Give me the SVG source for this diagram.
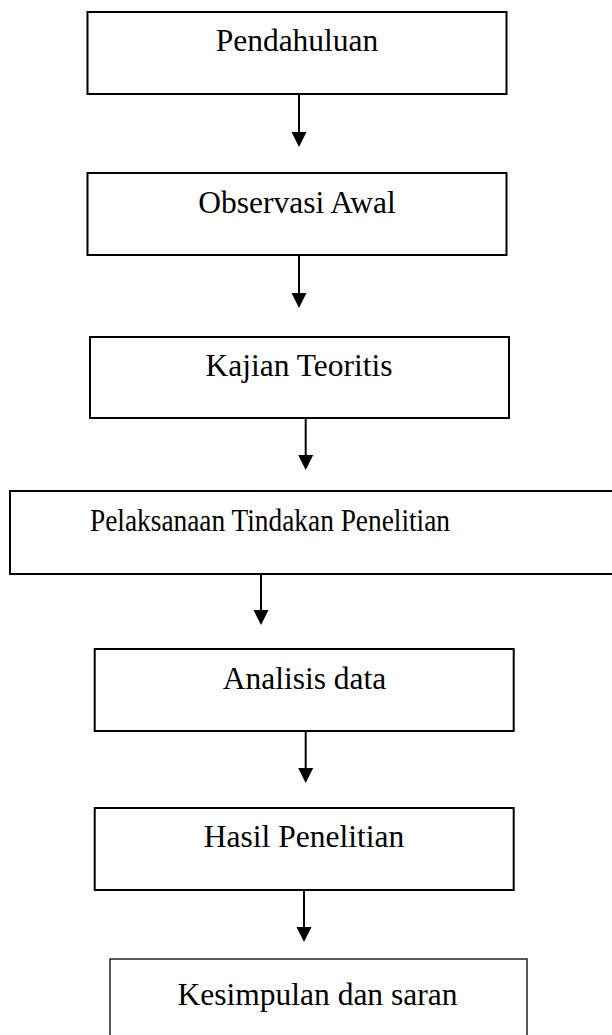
<svg xmlns="http://www.w3.org/2000/svg" width="612" height="1035" viewBox="0 0 612 1035">
<defs>
<style>
.box{fill:#fff;stroke:#000;stroke-width:2}
.thin{stroke-width:1.3}
.lbl{font-family:"Liberation Serif","Times New Roman",serif;font-size:31.5px;fill:#000;text-anchor:middle}
.wide{font-size:31px}
.conn line{stroke:#000;stroke-width:2}
.conn polygon{fill:#000}
</style>
</defs>
<rect width="612" height="1035" fill="#fff"/>
<g id="n1"><rect class="box" x="87.5" y="12" width="419" height="82"/><text class="lbl" x="297" y="51">Pendahuluan</text></g>
<g id="n2"><rect class="box" x="87.5" y="173" width="419" height="82"/><text class="lbl" x="297" y="213">Observasi Awal</text></g>
<g id="n3"><rect class="box" x="90" y="337" width="419" height="81"/><text class="lbl" x="299" y="376">Kajian Teoritis</text></g>
<g id="n4"><rect class="box" x="10" y="491" width="612" height="83"/><text class="lbl wide" x="270" y="531" textLength="360" lengthAdjust="spacingAndGlyphs">Pelaksanaan Tindakan Penelitian</text></g>
<g id="n5"><rect class="box" x="94.7" y="649" width="419" height="82"/><text class="lbl" x="304.5" y="689">Analisis data</text></g>
<g id="n6"><rect class="box" x="94.7" y="808" width="419" height="82"/><text class="lbl" x="304" y="847">Hasil Penelitian</text></g>
<g id="n7"><rect class="box thin" x="110" y="959" width="417" height="90"/><text class="lbl" x="317.5" y="1005">Kesimpulan dan saran</text></g>
<g id="connectors" class="conn">
<line x1="299" y1="94" x2="299" y2="133"/><polygon points="291.5,132 306.5,132 299,147"/>
<line x1="299" y1="255" x2="299" y2="294"/><polygon points="291.5,293 306.5,293 299,308"/>
<line x1="305.7" y1="418" x2="305.7" y2="456"/><polygon points="298.2,455 313.2,455 305.7,470"/>
<line x1="261" y1="574" x2="261" y2="611"/><polygon points="253.5,610 268.5,610 261,625"/>
<line x1="305.7" y1="731" x2="305.7" y2="769"/><polygon points="298.2,768 313.2,768 305.7,783"/>
<line x1="304" y1="890" x2="304" y2="928"/><polygon points="296.5,927 311.5,927 304,942"/>
</g>
</svg>
